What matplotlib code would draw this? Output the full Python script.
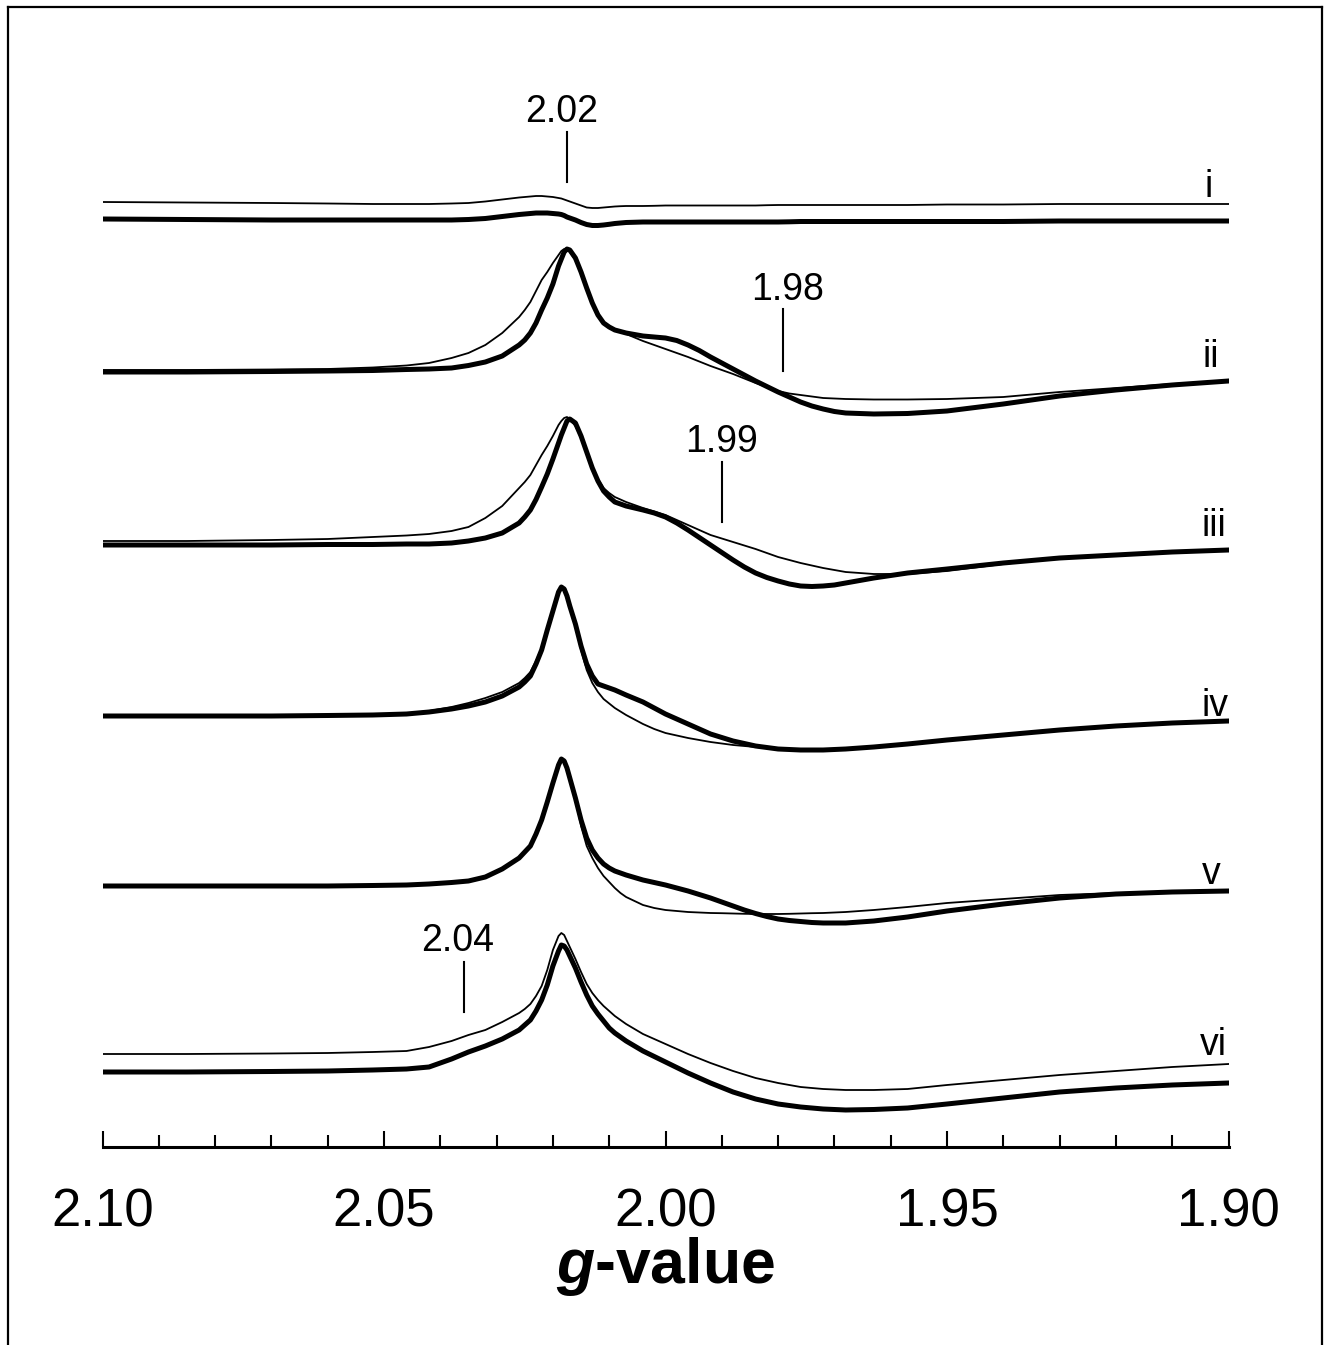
import matplotlib.pyplot as plt
from matplotlib.lines import Line2D
from matplotlib.ticker import MultipleLocator

plt.rcParams['font.family'] = ['Liberation Sans', 'DejaVu Sans']
plt.rcParams['mathtext.fontset'] = 'custom'
plt.rcParams['mathtext.bfit'] = 'Liberation Sans:bold:italic'

# g-values sampled across the sweep (denser around the central line)
g = [2.100, 2.085, 2.070, 2.060, 2.052, 2.046, 2.042, 2.038, 2.035, 2.032,
     2.029, 2.026, 2.025, 2.024, 2.023, 2.022, 2.021, 2.020, 2.019, 2.0185,
     2.018, 2.0175, 2.017, 2.016, 2.015, 2.014, 2.013, 2.012, 2.011, 2.010,
     2.009, 2.008, 2.007, 2.004, 2.002, 2.000, 1.998, 1.996, 1.994, 1.992,
     1.990, 1.988, 1.986, 1.984, 1.982, 1.980, 1.978, 1.976, 1.974, 1.972,
     1.970, 1.968, 1.963, 1.957, 1.950, 1.940, 1.930, 1.920, 1.910, 1.900]

labels = ['i', 'ii', 'iii', 'iv', 'v', 'vi']

# EPR signal (arb. units), thin and thick trace of each sample
i_thin = [17, 16.5, 16, 15.5, 15, 15, 15, 15.5, 16, 17.5,
          19.5, 21.5, 22, 22.5, 23, 23, 22.5, 22, 21, 20.5,
          19.5, 18.5, 17.5, 15.5, 13.5, 11.5, 11, 11, 11.5, 12,
          12.5, 12.8, 13, 13, 13.2, 13.5, 13.5, 13.5, 13.5, 13.5,
          13.5, 13.5, 13.5, 13.5, 13.8, 14, 14, 14, 14, 14,
          14, 14, 14, 14, 14.5, 14.5, 15, 15, 15, 15]
i_thick = [0, -0.5, -1, -1, -1, -1, -1, -1, -0.5, 0.5,
           2.5, 4.5, 5, 5.5, 6, 6, 6, 5.5, 5, 4.5,
           3.5, 2, 1, -1, -3.5, -5.5, -6.5, -6.5, -6, -5.3,
           -4.5, -4, -3.5, -3, -3, -3, -3, -3, -3, -3,
           -3, -3, -3, -3, -3, -3, -2.8, -2.5, -2.5, -2.5,
           -2.5, -2.5, -2.5, -2.5, -2.5, -2.5, -2, -2, -2, -2]

ii_thin = [2, 2, 2.5, 3, 4.5, 6.5, 9, 14, 19, 27,
           39, 55, 62, 70, 81, 92, 100, 109, 117, 121,
           123, 123, 120, 112, 99, 84, 69, 57, 49, 45,
           42, 40, 38, 31, 27, 23, 19, 15, 10.5, 6,
           2, -2, -6.5, -11, -15, -19, -21.5, -23, -24.5, -26,
           -26.5, -27, -27.5, -27.5, -27, -25, -20, -16, -12, -9]
ii_thick = [0, 0, 0.5, 1, 1.5, 2.5, 3, 4, 6.5, 10,
            16, 27, 32, 39, 49, 62, 74, 88, 106, 113,
            120, 123, 122, 114, 100, 84, 69, 57, 49, 45,
            42, 40.5, 39, 36, 35, 34, 31.5, 27, 21.5, 15,
            9, 3, -3, -9, -14.5, -20, -25, -30, -34, -37,
            -39.5, -41, -42, -41.5, -39, -32, -24, -18, -13, -9]

iii_thin = [4, 4, 5, 6, 8, 9.5, 11, 14, 18, 27,
            39, 57, 63, 70, 80, 90, 99, 109, 120, 124,
            127, 128, 126, 119, 107, 93, 78, 66, 57, 52,
            48, 45.5, 43, 37, 33.5, 30, 25, 20, 15, 10,
            6.5, 3, -0.5, -4, -8, -12, -15, -18, -20.5, -23,
            -25, -27, -29, -29, -26, -19, -13, -10, -7, -5]
iii_thick = [0, 0, 0, 0.5, 0.5, 1, 1, 2, 4, 7,
             12, 22, 28, 35, 45.5, 58, 71, 86, 102, 110,
             117, 124, 126, 122, 109, 93, 77, 64, 54, 48,
             43, 41, 39, 35, 32, 28, 22, 15, 7.5, 0,
             -7.5, -15, -22, -28, -32.5, -36, -39, -41, -41.5, -41,
             -40, -38, -33, -28, -24, -18, -13, -10, -7, -5]

iv_thin = [0, 0, 0, 0.5, 1, 2.5, 5, 9, 13, 18,
           24, 33, 38, 44, 55, 68, 87, 106, 124, 129,
           127, 120, 109, 90, 66, 46, 33, 24, 17, 12.5,
           8, 4.5, 1, -8, -13, -17, -19.5, -22, -24, -26,
           -27.5, -29, -30, -31, -32, -33, -33.5, -34, -34, -34,
           -33.5, -33, -31, -28, -24, -19, -14, -10, -7, -5]
iv_thick = [0, 0, 0, 0.5, 1, 2, 4, 7, 10, 14,
            20, 29, 34, 40, 52, 66, 86, 105, 124, 129,
            127, 120, 110, 92, 70, 52, 40, 32, 30, 28,
            26, 23.5, 21, 14, 8, 2, -3, -8, -13, -18,
            -21.5, -25, -27.5, -30, -31.5, -33, -33.5, -34, -34, -34,
            -33.5, -33, -31, -28, -24, -19, -14, -10, -7, -5]

v_thin = [0, 0, 0, 0, 0.5, 1, 2, 3.5, 5, 9,
          17, 28, 34, 40, 52, 66, 84, 103, 121, 127,
          125, 118, 108, 88, 60, 40, 28, 18, 10, 4,
          -2, -7, -11, -19, -22, -24, -25, -26, -26.5, -27,
          -27.2, -27.5, -27.8, -28, -28, -28, -27.8, -27.5, -27.2, -27,
          -26.5, -26, -24, -21, -17, -13, -9, -7, -6, -5]
v_thick = [0, 0, 0, 0, 0.5, 1, 2, 3.5, 5, 9,
           17, 28, 34, 40, 52, 66, 84, 103, 121, 127,
           125, 118, 108, 88, 66, 48, 36, 28, 22, 18,
           15, 13, 11, 6, 3.5, 1, -2, -5, -8.5, -12,
           -16, -20, -24, -27.5, -30.5, -33, -34.5, -35.5, -36.5, -37,
           -37, -37, -35, -31, -25, -18, -12, -8, -6, -5]

vi_thin = [18, 18, 18.5, 19, 20, 21, 25, 31, 37, 42,
           50, 59, 63, 68, 76, 86, 102, 122, 136, 139,
           137, 131, 125, 113, 100, 88, 79, 72, 66, 61,
           56, 52, 48, 38, 33, 28, 23, 18, 13.5, 9,
           5, 1, -2.5, -6, -8.5, -11, -13, -15, -16, -17,
           -17.5, -18, -18, -17, -13, -8, -3, 1, 5, 8]
vi_thick = [0, 0, 0.5, 1, 2, 3, 5, 13, 20, 26,
            33, 42, 47, 52, 61, 72, 87, 106, 121, 127,
            126, 122, 116, 104, 90, 77, 66, 58, 51, 44,
            39, 35, 31, 21, 15.5, 10, 4.5, -1, -6, -11,
            -15.5, -20, -23.5, -27, -29.5, -32, -33.5, -35, -36, -37,
            -37.5, -38, -37.5, -36, -32, -26, -20, -16, -13, -11]

thin_traces = [i_thin, ii_thin, iii_thin, iv_thin, v_thin, vi_thin]
thick_traces = [i_thick, ii_thick, iii_thick, iv_thick, v_thick, vi_thick]

# marked g-values: text, x of text, x of tick
mark_text = ['2.02', '1.98', '1.99', '2.04']
mark_text_g = [2.0185, 1.9784, 1.990, 2.0369]
mark_line_g = [2.0175, 1.9791, 1.990, 2.0358]

# layout (vertical stacking, in px-like units above the axis)
offsets = [928, 775, 602, 431, 261, 75]
label_g = [1.9036, 1.9031, 1.9026, 1.9024, 1.9031, 1.9027]
label_y = [950, 780, 611, 431, 263, 92]
mark_text_y = [1025, 847, 695, 196]
mark_line_y = [(965, 1015), (776, 838), (625, 685), (135, 185)]

W, H = 1329, 1345
fig = plt.figure(figsize=(W / 100, H / 100), dpi=100)
ax = fig.add_axes([102.5 / W, (H - 1147) / H, 1126 / W, 1107 / H])

for k in range(len(labels)):
    ax.plot(g, [offsets[k] + v for v in thin_traces[k]], color='black',
            lw=1.3, solid_joinstyle='round')
    ax.plot(g, [offsets[k] + v for v in thick_traces[k]], color='black',
            lw=3.6, solid_joinstyle='round')
    ax.text(label_g[k], label_y[k], labels[k], ha='center', va='baseline',
            fontsize=27)

for t, tg, lg, ty, (y0, y1) in zip(mark_text, mark_text_g, mark_line_g,
                                   mark_text_y, mark_line_y):
    ax.text(tg, ty, t, ha='center', va='baseline', fontsize=27)
    ax.plot([lg, lg], [y0, y1], color='black', lw=1.5)

ax.set_xlim(2.10, 1.90)
ax.set_ylim(0, 1107)
ax.set_xticks([2.10, 2.05, 2.00, 1.95, 1.90])
ax.set_xticklabels(['2.10', '2.05', '2.00', '1.95', '1.90'])
ax.xaxis.set_minor_locator(MultipleLocator(0.01))
ax.tick_params(axis='x', which='major', direction='in', length=11.5,
               width=1.5, labelsize=38, pad=29)
ax.tick_params(axis='x', which='minor', direction='in', length=9, width=1.5)
ax.tick_params(axis='y', left=False, labelleft=False)
for s in ['top', 'left', 'right']:
    ax.spines[s].set_visible(False)
ax.spines['bottom'].set_linewidth(2.2)
ax.patch.set_visible(False)

fig.text(665 / W, (H - 1283) / H, r'$\mathbfit{g}$-value', ha='center',
         va='baseline', fontsize=45, fontweight='bold')

# frame around the figure
bx0, bx1, by = 8 / W, 1322 / W, 1 - 7 / H
fig.add_artist(Line2D([bx0, bx0], [0, by], transform=fig.transFigure,
                      color='black', lw=1.6))
fig.add_artist(Line2D([bx1, bx1], [0, by], transform=fig.transFigure,
                      color='black', lw=1.6))
fig.add_artist(Line2D([bx0, bx1], [by, by], transform=fig.transFigure,
                      color='black', lw=1.6))

fig.savefig('out.png', dpi=100)
